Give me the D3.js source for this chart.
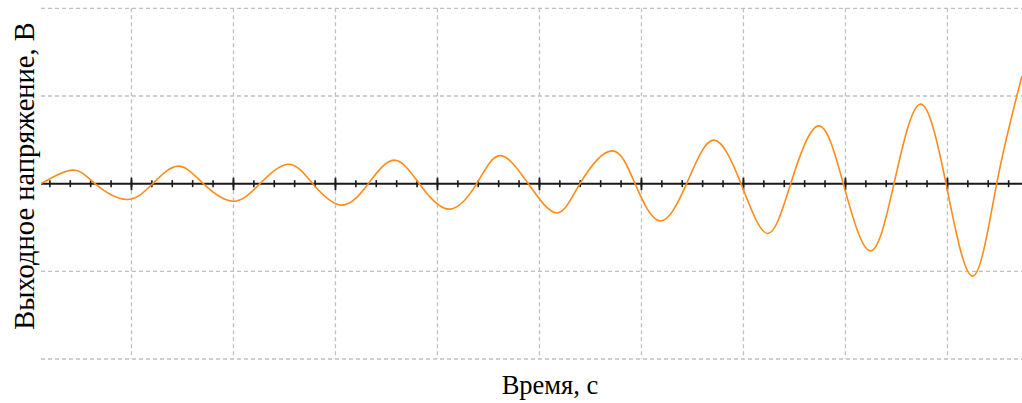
<!DOCTYPE html>
<html>
<head>
<meta charset="utf-8">
<script src="https://cdn.jsdelivr.net/npm/d3@7"></script>
<style>
  html, body { margin: 0; padding: 0; background: #fff; }
  svg { display: block; }
  .lbl { font-family: "Liberation Serif", "Times New Roman", serif; fill: #000; }
</style>
</head>
<body>
<svg id="chart" width="1022" height="403"></svg>
<script>
// Output voltage response, sampled at zero crossings and extrema (time in ms, voltage in V)
const timeMs = [0, 3.14, 5.29, 8.40, 10.95, 13.46, 15.91, 18.85, 21.47, 24.24,
  26.64, 29.48, 32.09, 34.61, 37.09, 40.0, 42.72, 45.0, 47.77, 50.56,
  52.84, 55.95, 58.24, 60.69, 63.30, 65.91, 68.63, 71.21, 73.5, 76.21,
  78.66, 81.27, 83.63, 86.18, 88.73, 91.34, 93.7, 96.18];
const voltage = [0, 0.154, 0, -0.18, 0, 0.2, 0, -0.2, 0, 0.222,
  0, -0.245, 0, 0.268, 0, -0.291, 0, 0.32, 0, -0.334,
  0, 0.374, 0, -0.425, 0, 0.496, 0, -0.568, 0, 0.659,
  0, -0.766, 0, 0.906, 0, -1.055, 0, 1.23];

// Grid and tick positions
const majorTicks = [8.87, 18.87, 28.87, 38.87, 48.87, 58.87, 68.87, 78.87, 88.87];
const minorTicks = d3.range(0.87, 96.2, 2);
const yGrid = [-2, -1, 1, 2];

const xLabel = "Время, с";
const yLabel = "Выходное напряжение, В";

const svg = d3.select("#chart");
const margin = { left: 41, right: 0, top: 8.3, bottom: 44 };
const W = 1022, H = 403;

const x = d3.scaleLinear().domain([0, 96.18]).range([margin.left, W - margin.right]);
const y = d3.scaleLinear().domain([-2, 2]).range([H - margin.bottom, margin.top]);

const gridColor = "#c0c0c0";
const dash = "4,3";

// horizontal grid
svg.append("g").selectAll("line").data(yGrid).join("line")
  .attr("x1", x.range()[0]).attr("x2", x.range()[1])
  .attr("y1", d => y(d)).attr("y2", d => y(d))
  .attr("stroke", gridColor).attr("stroke-width", 1.3).attr("stroke-dasharray", dash);

// vertical grid
svg.append("g").selectAll("line").data(majorTicks).join("line")
  .attr("x1", d => x(d)).attr("x2", d => x(d))
  .attr("y1", y(2)).attr("y2", y(-2))
  .attr("stroke", gridColor).attr("stroke-width", 1.3).attr("stroke-dasharray", dash);

// time axis through zero with minor and major ticks
const axisG = svg.append("g").attr("transform", `translate(0,${y(0)})`);
axisG.append("line")
  .attr("x1", x.range()[0]).attr("x2", x.range()[1])
  .attr("stroke", "#1a1a1a").attr("stroke-width", 2);
axisG.selectAll("line.minor").data(minorTicks).join("line").attr("class", "minor")
  .attr("x1", d => x(d)).attr("x2", d => x(d)).attr("y1", -3.5).attr("y2", 3.5)
  .attr("stroke", "#1a1a1a").attr("stroke-width", 1.6);
axisG.selectAll("line.major").data(majorTicks).join("line").attr("class", "major")
  .attr("x1", d => x(d)).attr("x2", d => x(d)).attr("y1", -6).attr("y2", 6.5)
  .attr("stroke", "#1a1a1a").attr("stroke-width", 1.8);

// response curve
const pts = timeMs.map((t, i) => [t, voltage[i]]);
svg.append("path").datum(pts)
  .attr("fill", "none").attr("stroke", "#ff8c1a").attr("stroke-width", 1.6)
  .attr("d", d3.line().x(d => x(d[0])).y(d => y(d[1])).curve(d3.curveNatural));

// axis titles
svg.append("text").attr("class", "lbl")
  .attr("x", 550).attr("y", 394).attr("text-anchor", "middle")
  .attr("font-size", 26.5).text(xLabel);
svg.append("text").attr("class", "lbl")
  .attr("transform", "translate(34,176) rotate(-90)").attr("text-anchor", "middle")
  .attr("font-size", 28.5).text(yLabel);
</script>
</body>
</html>
